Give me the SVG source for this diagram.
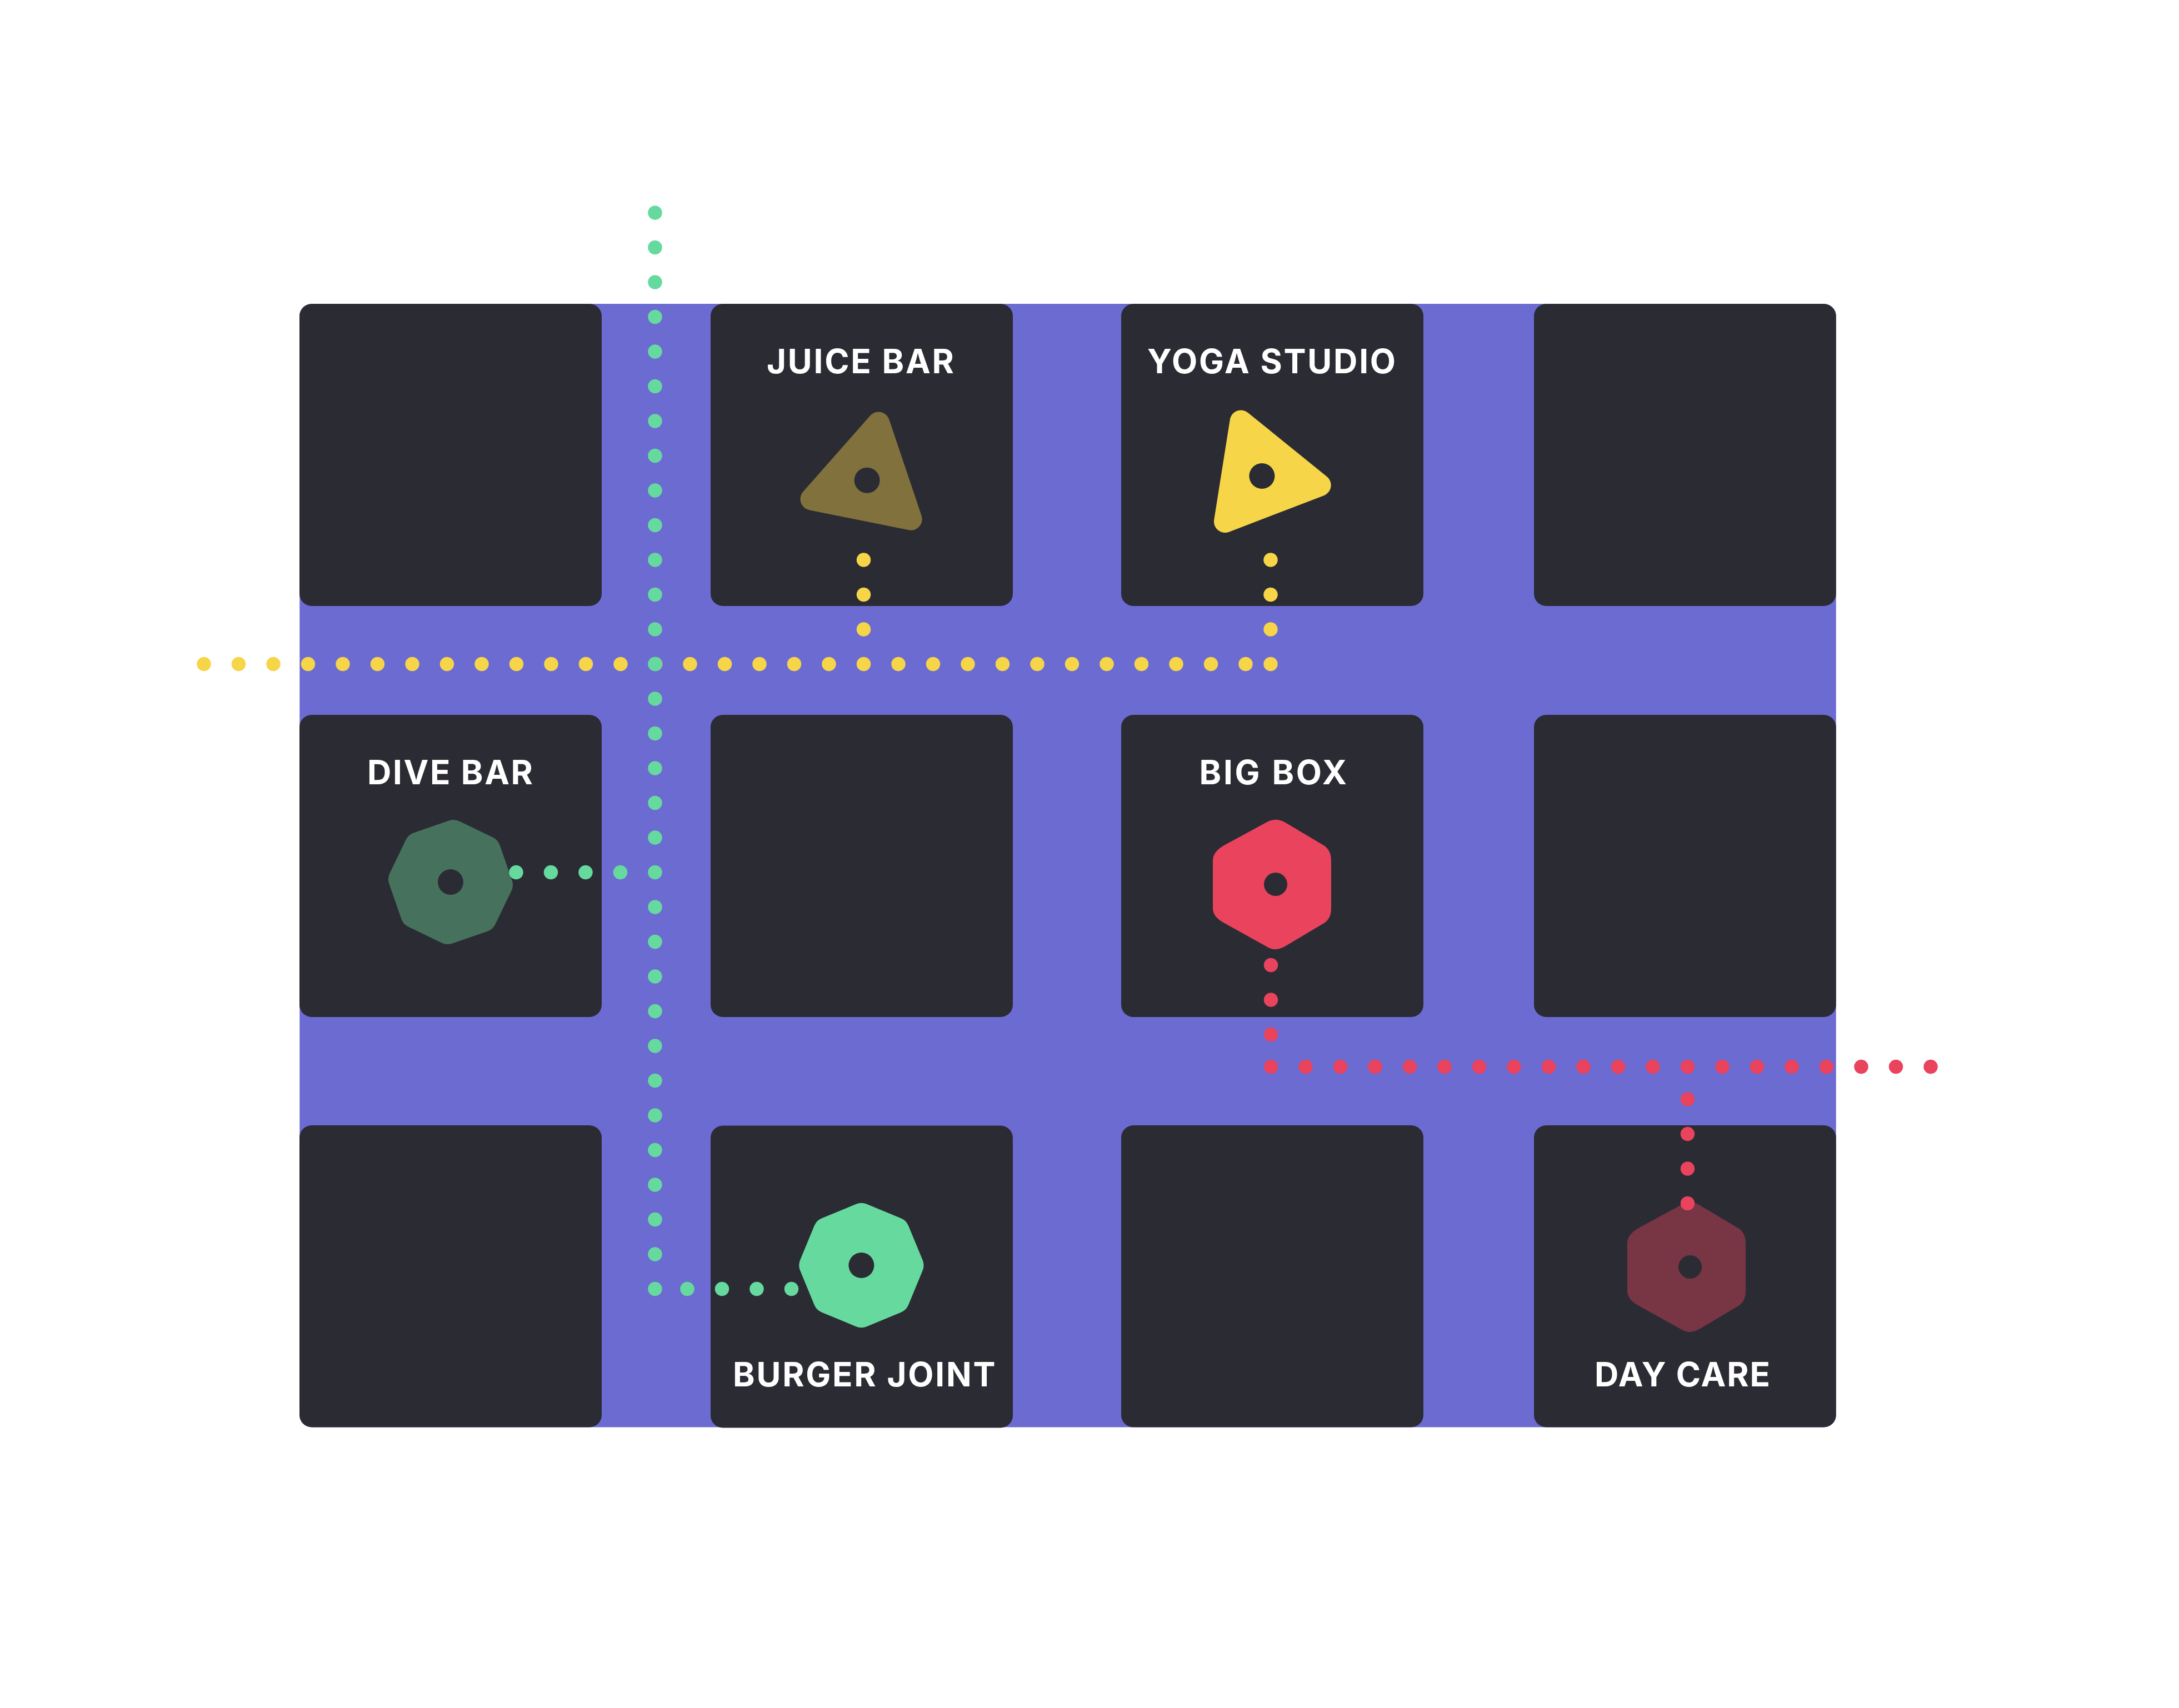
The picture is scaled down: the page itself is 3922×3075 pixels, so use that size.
<svg xmlns="http://www.w3.org/2000/svg" xmlns:xlink="http://www.w3.org/1999/xlink" width="3922" height="3075" viewBox="0 0 3922 3075">
<style>
.card{fill:#2b2b34}
.hole{fill:#2b2b34}
.lbl{font-family:"Inter","Liberation Sans",sans-serif;font-weight:700;font-size:60px;fill:#fff}
.round{stroke-linejoin:round}
.tri{stroke-width:40}
.oc{stroke-width:50}
.dots{fill:none;stroke-width:25.5;stroke-linecap:round;stroke-dasharray:0 62.5}
.y{stroke:#f7d549}.g{stroke:#66da9e}.r{stroke:#e9435d}
</style>
<defs>
<path id="hex" d="M-14.7-112.500Q1-120.500 16.500-111.700L87.900-69.200Q100-60.500 100-43.100V43.600Q100 61 87.900 69.600L16.500 112Q-1.400 121.600-14.700 113L-93 69.600Q-113 58.800-113 43.600V-43.100Q-113-58.300-93-70Z"/>
<polygon id="oct" class="round oc" points="0,-87.100 61.600,-61.600 87.100,0 61.600,61.600 0,87.100 -61.600,61.600 -87.100,0 -61.600,-61.600"/>
<polygon id="trig" class="round tri" points="0,-105.500 91.400,52.750 -91.400,52.750"/>
</defs>
<rect width="3922" height="3075" fill="#fff"/>
<rect id="ground" x="539.300" y="547" width="2765.400" height="2022.500" rx="22" fill="#6b6bd2"/>
<g id="card-1"><rect class="card" x="539" y="547" width="544" height="544" rx="22"/></g>
<g id="juice-bar"><rect class="card" x="1279" y="547" width="544" height="544" rx="22"/>
<text class="lbl" x="1380" y="671.500" textLength="337">JUICE BAR</text>
<use xlink:href="#trig" href="#trig" fill="#80713d" stroke="#80713d" transform="translate(1560.500 864.900) rotate(11.400)"/>
<circle class="hole" cx="1560.600" cy="864.800" r="23"/></g>
<g id="yoga-studio"><rect class="card" x="2018" y="547" width="544" height="544" rx="22"/>
<text class="lbl" x="2065" y="671.500" textLength="447">YOGA STUDIO</text>
<use xlink:href="#trig" href="#trig" fill="#f7d549" stroke="#f7d549" transform="translate(2271.400 857) rotate(-21)"/>
<circle class="hole" cx="2271.400" cy="857" r="23"/></g>
<g id="card-4"><rect class="card" x="2761" y="547" width="543.700" height="544" rx="22"/></g>
<g id="dive-bar"><rect class="card" x="539" y="1287" width="544" height="544" rx="22"/>
<text class="lbl" x="661" y="1412" textLength="298">DIVE BAR</text>
<use xlink:href="#oct" href="#oct" fill="#46725d" stroke="#46725d" transform="translate(811 1588) rotate(3.300)"/>
<circle class="hole" cx="811" cy="1588" r="23"/></g>
<g id="card-6"><rect class="card" x="1279" y="1287" width="544" height="544" rx="22"/></g>
<g id="big-box"><rect class="card" x="2018" y="1287" width="544" height="544" rx="22"/>
<text class="lbl" x="2158.500" y="1411.500" textLength="265.500">BIG BOX</text>
<use xlink:href="#hex" href="#hex" fill="#e9435d" transform="translate(2296 1592)"/>
<circle class="hole" cx="2296" cy="1592" r="21"/></g>
<g id="card-8"><rect class="card" x="2761" y="1287" width="543.700" height="544" rx="22"/></g>
<g id="card-9"><rect class="card" x="539" y="2026" width="544" height="543.500" rx="22"/></g>
<g id="burger-joint"><rect class="card" x="1279" y="2026.500" width="544" height="544" rx="22"/>
<text class="lbl" x="1319" y="2496" textLength="472.500">BURGER JOINT</text>
<use xlink:href="#oct" href="#oct" fill="#66da9e" stroke="#66da9e" transform="translate(1550.400 2278)"/>
<circle class="hole" cx="1550.400" cy="2278" r="23"/></g>
<g id="card-11"><rect class="card" x="2018" y="2026" width="544" height="543.500" rx="22"/></g>
<g id="day-care"><rect class="card" x="2761" y="2026" width="543.700" height="543.500" rx="22"/>
<text class="lbl" x="2870" y="2495.500" textLength="316">DAY CARE</text>
<use xlink:href="#hex" href="#hex" fill="#783544" transform="translate(3042 2281)"/>
<circle class="hole" cx="3042" cy="2281" r="21"/></g>
<g id="connectors">
<path class="dots y" d="M367 1195.400H2260M2287 1195.400V1190M2287 1133V1000M1554.500 1133V1000"/>
<path class="dots g" d="M1179 382.900V2340M929 1570.400H1170M1237 2320.400H1440"/>
<path class="dots r" d="M2287.500 1920.500H3490M2287.500 1862.500V1730M3037.500 1979V2180"/>
</g>
</svg>
